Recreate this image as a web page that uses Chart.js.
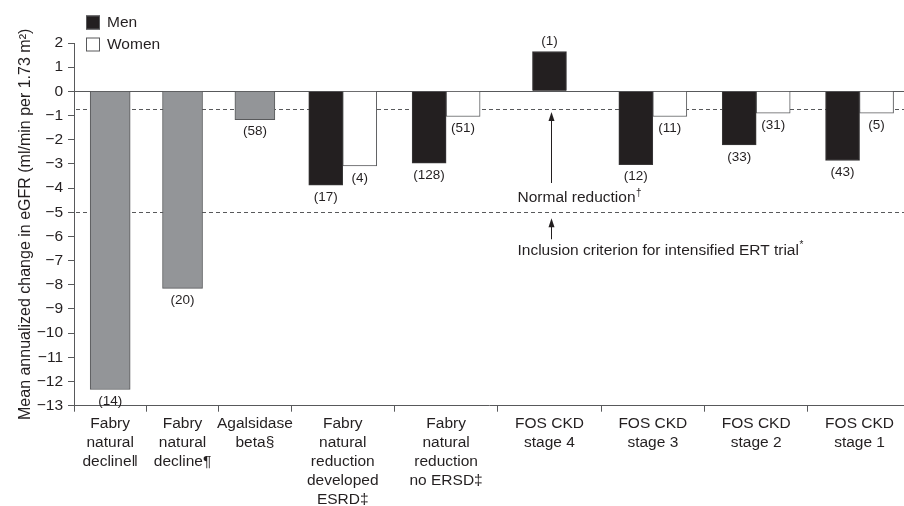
<!DOCTYPE html>
<html>
<head>
<meta charset="utf-8">
<script src="https://cdn.jsdelivr.net/npm/chart.js@4.4.1/dist/chart.umd.min.js"></script>
<style>
  html, body { margin: 0; padding: 0; background: #fff; overflow: hidden; }
  #wrap { width: 904px; height: 506px; position: relative; }
</style>
</head>
<body>
<div id="wrap"><canvas id="graficoEgfr"></canvas></div>
<script>
// -----------------------------------------------------------
// Datos
// -----------------------------------------------------------
const categorias = [
    ['Fabry', 'natural', 'decline‖'],
    ['Fabry', 'natural', 'decline¶'],
    ['Agalsidase', 'beta§'],
    ['Fabry', 'natural', 'reduction', 'developed', 'ESRD‡'],
    ['Fabry', 'natural', 'reduction', 'no ERSD‡'],
    ['FOS CKD', 'stage 4'],
    ['FOS CKD', 'stage 3'],
    ['FOS CKD', 'stage 2'],
    ['FOS CKD', 'stage 1']
];
const valoresTodos   = [-12.33, -8.15, -1.17, null, null, null, null, null, null];
const valoresHombres = [null, null, null, -3.88, -2.97, 1.65, -3.03, -2.21, -2.86];
const valoresMujeres = [null, null, null, -3.08, -1.04, null, -1.04, -0.90, -0.90];
const nTodos   = [14, 20, 58, null, null, null, null, null, null];
const nHombres = [null, null, null, 17, 128, 1, 12, 33, 43];
const nMujeres = [null, null, null, 4, 51, null, 11, 31, 5];
const reduccionNormal = -0.73;
const criterioInclusion = -5;
const textoNormal = ['Normal reduction', '†'];
const textoInclusion = ['Inclusion criterion for intensified ERT trial', '*'];

// ancho relativo de cada categoría (las tres primeras son más estrechas)
const anchos = [7, 7, 7, 10, 10, 10, 10, 10, 10];
const limites = [0];
anchos.forEach(a => limites.push(limites[limites.length - 1] + a));
const centros = anchos.map((a, i) => limites[i] + a / 2);

const puntos = (vals) => vals
    .map((v, i) => ({ x: centros[i], y: v }))
    .filter(p => p.y !== null);
const conteos = (vals, ns) => ns.filter((n, i) => vals[i] !== null);

const colorTexto = '#231f20';
const colorBorde = '#58595b';
const fuente = '"Liberation Sans", Arial, sans-serif';
Chart.defaults.font.family = fuente;
Chart.defaults.color = colorTexto;

// -----------------------------------------------------------
// Plugins: líneas de referencia, etiquetas (n), flechas y leyenda
// -----------------------------------------------------------
const lineasReferencia = {
    id: 'lineasReferencia',
    beforeDatasetsDraw(chart) {
        const { ctx, chartArea, scales: { y } } = chart;
        ctx.save();
        ctx.strokeStyle = colorBorde;
        ctx.lineWidth = 1;
        const y0 = Math.round(y.getPixelForValue(0)) + 0.5;
        ctx.beginPath();
        ctx.moveTo(chartArea.left, y0);
        ctx.lineTo(chartArea.right, y0);
        ctx.stroke();
        ctx.setLineDash([4, 3]);
        [reduccionNormal, criterioInclusion].forEach(v => {
            const py = Math.round(y.getPixelForValue(v)) + 0.5;
            ctx.beginPath();
            ctx.moveTo(chartArea.left + 2, py);
            ctx.lineTo(chartArea.right, py);
            ctx.stroke();
        });
        ctx.restore();
    }
};

const etiquetasN = {
    id: 'etiquetasN',
    afterDatasetsDraw(chart) {
        const { ctx } = chart;
        ctx.save();
        ctx.font = '13.5px ' + fuente;
        ctx.fillStyle = colorTexto;
        ctx.textAlign = 'center';
        ctx.textBaseline = 'middle';
        chart.data.datasets.forEach((ds, i) => {
            chart.getDatasetMeta(i).data.forEach((bar, j) => {
                const arriba = ds.data[j].y > 0;
                ctx.fillText('(' + ds.conteos[j] + ')', bar.x, arriba ? bar.y - 10 : bar.y + 12);
            });
        });
        ctx.restore();
    }
};

const flechas = {
    id: 'flechas',
    afterDatasetsDraw(chart) {
        const { ctx, scales: { x, y } } = chart;
        const px = Math.round(x.getPixelForValue(46.1)) + 0.5;
        const flecha = (tip, cola) => {
            ctx.beginPath();
            ctx.moveTo(px, tip + 6);
            ctx.lineTo(px, cola);
            ctx.stroke();
            ctx.beginPath();
            ctx.moveTo(px, tip);
            ctx.lineTo(px - 3, tip + 9);
            ctx.lineTo(px + 3, tip + 9);
            ctx.closePath();
            ctx.fill();
        };
        // texto con superíndice al final
        const texto = (partes, tx, ty) => {
            ctx.font = '15.5px ' + fuente;
            ctx.fillText(partes[0], tx, ty);
            const w = ctx.measureText(partes[0]).width;
            ctx.font = '10px ' + fuente;
            ctx.fillText(partes[1], tx + w + 0.5, ty - 5);
        };
        ctx.save();
        ctx.strokeStyle = colorTexto;
        ctx.fillStyle = colorTexto;
        ctx.lineWidth = 1;
        const yN = y.getPixelForValue(reduccionNormal);
        const yI = y.getPixelForValue(criterioInclusion);
        flecha(yN + 3, yN + 74);
        flecha(yI + 6, yI + 27);
        ctx.textAlign = 'left';
        ctx.textBaseline = 'middle';
        texto(textoNormal, px - 34, yN + 89);
        texto(textoInclusion, px - 34, yI + 38);
        ctx.restore();
    }
};

const leyenda = {
    id: 'leyenda',
    afterDraw(chart) {
        const { ctx, chartArea } = chart;
        const x0 = chartArea.left + 12;
        const filas = [
            { texto: 'Men', fondo: colorTexto, cy: 22.5 },
            { texto: 'Women', fondo: '#ffffff', cy: 44.5 }
        ];
        ctx.save();
        ctx.font = '15.5px ' + fuente;
        ctx.textBaseline = 'middle';
        filas.forEach(f => {
            ctx.fillStyle = f.fondo;
            ctx.fillRect(x0, f.cy - 7, 14, 14);
            ctx.strokeStyle = colorBorde;
            ctx.lineWidth = 1;
            ctx.strokeRect(x0 + 0.5, f.cy - 6.5, 13, 13);
            ctx.fillStyle = colorTexto;
            ctx.fillText(f.texto, x0 + 21, f.cy);
        });
        ctx.restore();
    }
};

// -----------------------------------------------------------
// Gráfico
// -----------------------------------------------------------
const ctxEgfr = document.getElementById('graficoEgfr').getContext('2d');
new Chart(ctxEgfr, {
    type: 'bar',
    data: {
        datasets: [{
            label: 'All',
            data: puntos(valoresTodos),
            conteos: conteos(valoresTodos, nTodos),
            backgroundColor: '#939598',
            borderColor: colorBorde,
            borderWidth: 1,
            barThickness: 40,
            skipNull: true
        }, {
            label: 'Men',
            data: puntos(valoresHombres),
            conteos: conteos(valoresHombres, nHombres),
            backgroundColor: colorTexto,
            borderColor: '#3a3839',
            borderWidth: 1,
            barThickness: 34,
            skipNull: true
        }, {
            label: 'Women',
            data: puntos(valoresMujeres),
            conteos: conteos(valoresMujeres, nMujeres),
            backgroundColor: '#ffffff',
            borderColor: colorBorde,
            borderWidth: 1,
            barThickness: 34,
            skipNull: true
        }]
    },
    options: {
        responsive: true,
        maintainAspectRatio: false,
        animation: false,
        layout: { padding: { top: 43, right: 0, bottom: 0, left: 0 } },
        plugins: {
            legend: { display: false },
            tooltip: { enabled: false }
        },
        scales: {
            x: {
                type: 'linear',
                min: 0,
                max: 80.3,
                offset: false,
                afterBuildTicks: (scale) => {
                    const vals = limites.concat(centros)
                        .filter(v => v <= 80.3)
                        .sort((a, b) => a - b);
                    scale.ticks = vals.map(v => ({ value: v }));
                },
                afterFit: (scale) => { scale.height = 100.3; },
                ticks: {
                    autoSkip: false,
                    maxRotation: 0,
                    padding: 2,
                    font: { size: 15.5, lineHeight: 1.24 },
                    color: colorTexto,
                    callback: (v) => {
                        const i = centros.indexOf(v);
                        return i >= 0 ? categorias[i] : '';
                    }
                },
                grid: {
                    offset: false,
                    drawOnChartArea: false,
                    drawTicks: true,
                    tickLength: 6,
                    color: (c) => (c.tick && limites.includes(c.tick.value)) ? colorBorde : 'rgba(0,0,0,0)'
                },
                border: { display: true, color: colorBorde, width: 1 }
            },
            y: {
                min: -13,
                max: 2,
                afterFit: (scale) => { scale.width = 74; },
                ticks: {
                    stepSize: 1,
                    padding: 5,
                    font: { size: 15.5 },
                    color: colorTexto,
                    callback: (v) => String(v).replace('-', '−')
                },
                grid: {
                    drawOnChartArea: false,
                    drawTicks: true,
                    tickLength: 6,
                    color: colorBorde
                },
                border: { display: true, color: colorBorde, width: 1 },
                title: {
                    display: true,
                    text: 'Mean annualized change in eGFR (ml/min per 1.73 m²)',
                    font: { size: 16 },
                    color: colorTexto,
                    padding: { top: 16, bottom: 0 }
                }
            }
        }
    },
    plugins: [lineasReferencia, etiquetasN, flechas, leyenda]
});
</script>
</body>
</html>
